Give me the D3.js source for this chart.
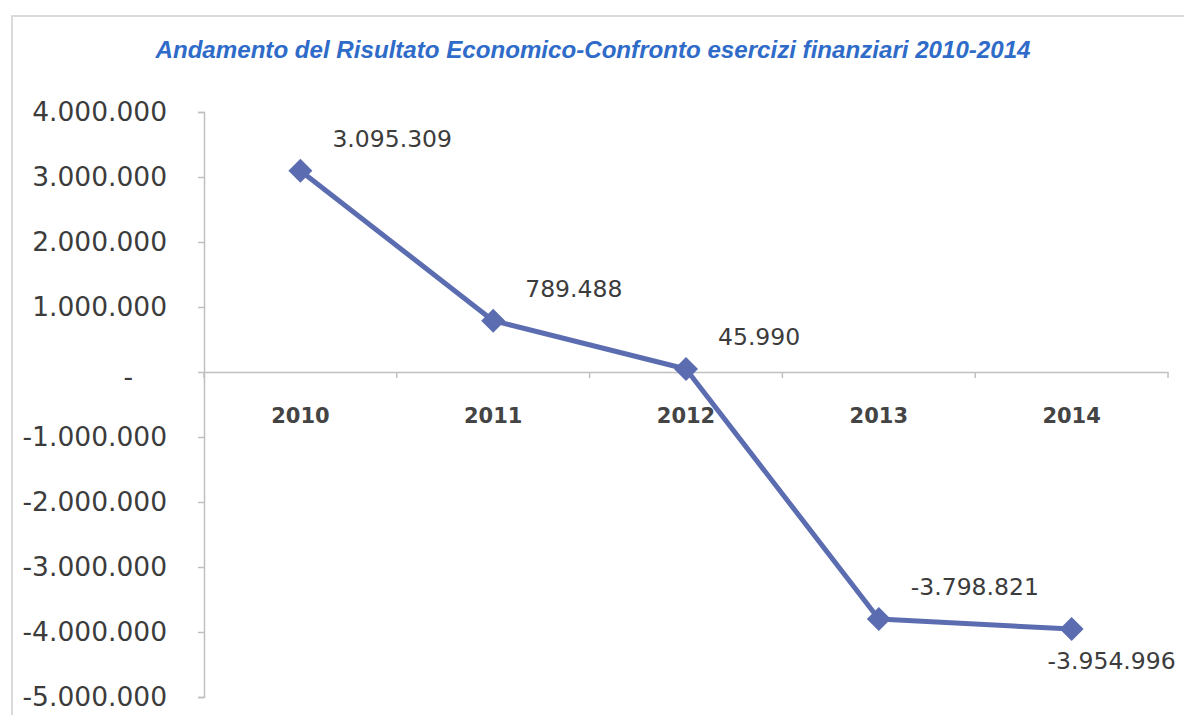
<!DOCTYPE html>
<html>
<head>
<meta charset="utf-8">
<script src="https://cdn.jsdelivr.net/npm/d3@7"></script>
<style>
  body { margin: 0; background: #fff; }
  svg { display: block; }
</style>
</head>
<body>
<svg width="1184" height="715"></svg>
<script>
// data
const years = ["2010", "2011", "2012", "2013", "2014"];
const risultato = [3095309, 789488, 45990, -3798821, -3954996];
const yTicks = [4000000, 3000000, 2000000, 1000000, 0, -1000000, -2000000, -3000000, -4000000, -5000000];

const svg = d3.select("svg");
const it = d3.formatLocale({ decimal: ",", thousands: ".", grouping: [3], currency: ["€", ""], minus: "-" });
const fmt = it.format(",d");

// outer frame
svg.append("path")
  .attr("d", "M12,715 V16 H1184")
  .attr("fill", "none")
  .attr("stroke", "#d0d0d0")
  .attr("stroke-width", 1.5);

// title
svg.append("text")
  .attr("x", 593)
  .attr("y", 58)
  .attr("text-anchor", "middle")
  .style("font-family", "Liberation Sans, Arial, sans-serif")
  .style("font-size", "23px")
  .style("font-weight", "bold")
  .style("font-style", "italic")
  .style("fill", "#2f6bc8")
  .attr("textLength", 875)
  .attr("lengthAdjust", "spacingAndGlyphs")
  .text("Andamento del Risultato Economico-Confronto esercizi finanziari 2010-2014");

const x = d3.scaleBand().domain(years).range([204, 1168]);
const y = d3.scaleLinear().domain([-5000000, 4000000]).range([697, 112]);

// y axis
const yAxis = svg.append("g")
  .attr("transform", "translate(204,0)")
  .call(d3.axisLeft(y).tickValues(yTicks).tickSize(6).tickPadding(31)
    .tickFormat(d => d === 0 ? "-" : fmt(d)));
yAxis.select(".domain").attr("stroke", "#c0c0c0").attr("stroke-width", 1.5);
yAxis.selectAll(".tick line").attr("stroke", "#c0c0c0").attr("stroke-width", 1.5);
yAxis.selectAll(".tick text")
  .style("font-family", "DejaVu Sans, sans-serif")
  .style("font-size", "26.5px")
  .style("fill", "#3c3c3c")
  .attr("dx", d => d === 0 ? -34 : 0)
  .attr("dy", d => d === 0 ? "0.5em" : "0.32em");

// x axis along zero line
const xAxis = svg.append("g")
  .attr("transform", "translate(0," + y(0) + ")")
  .call(d3.axisBottom(x).tickSize(0).tickPadding(36));
xAxis.select(".domain").attr("stroke", "#c0c0c0").attr("stroke-width", 1.5);
xAxis.selectAll(".tick text")
  .style("font-family", "DejaVu Sans, sans-serif")
  .style("font-size", "21px")
  .style("font-weight", "bold")
  .style("fill", "#444");
// category boundary ticks
svg.append("g")
  .selectAll("line")
  .data(years.concat(["end"]))
  .join("line")
    .attr("x1", (d, i) => x.range()[0] + i * x.step())
    .attr("x2", (d, i) => x.range()[0] + i * x.step())
    .attr("y1", y(0))
    .attr("y2", y(0) + 6)
    .attr("stroke", "#c0c0c0")
    .attr("stroke-width", 1.5);

const cx = d => x(d) + x.bandwidth() / 2;

// line
svg.append("path")
  .datum(years)
  .attr("fill", "none")
  .attr("stroke", "#5b6db0")
  .attr("stroke-width", 5)
  .attr("stroke-linejoin", "round")
  .attr("d", d3.line().x(d => cx(d)).y((d, i) => y(risultato[i])));

// diamond markers
svg.append("g")
  .selectAll("path")
  .data(years)
  .join("path")
    .attr("transform", (d, i) => "translate(" + cx(d) + "," + y(risultato[i]) + ")")
    .attr("d", "M0,-12 L12,0 L0,12 L-12,0 Z")
    .attr("fill", "#5b6db0");

// data labels
svg.append("g")
  .selectAll("text")
  .data(years)
  .join("text")
    .attr("x", (d, i) => cx(d) + (i === years.length - 1 ? -24 : 32))
    .attr("y", (d, i) => y(risultato[i]) + (i === years.length - 1 ? 40 : -24))
    .style("font-family", "DejaVu Sans, sans-serif")
    .style("font-size", "23.5px")
    .style("fill", "#3c3c3c")
    .text((d, i) => fmt(risultato[i]));
</script>
</body>
</html>
